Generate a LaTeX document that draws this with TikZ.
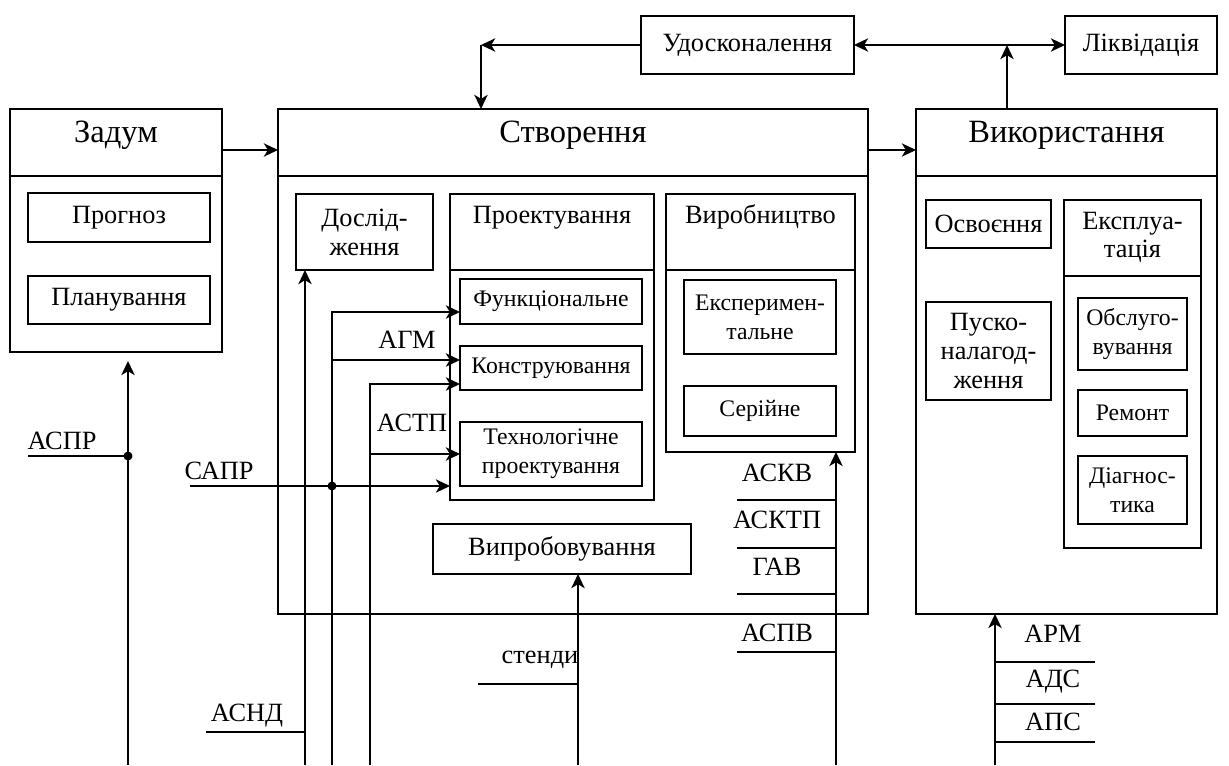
\documentclass[tikz,border=0pt]{standalone}
\usepackage{fontspec}
\setmainfont{Liberation Serif}
\usetikzlibrary{arrows.meta,positioning}

\newcommand{\titlefont}{\fontsize{18.5}{22}\selectfont}
\newcommand{\boxfont}{\fontsize{15}{16.5}\selectfont}
\newcommand{\subfont}{\fontsize{13.5}{16.5}\selectfont}

\tikzset{
  basic/.style   = {draw, rectangle, line width=1.3pt, align=center, inner sep=1pt, outer sep=0pt, anchor=north west, font=\boxfont},
  head/.style    = {basic, font=\titlefont, text height=0.6cm, text depth=0.6cm},
  subhead/.style = {basic, inner ysep=0pt, text height=0.58cm, text depth=0.94cm},
  sub/.style     = {basic, font=\subfont},
  lbl/.style     = {font=\boxfont, inner sep=0pt}
}

\begin{document}
\begin{tikzpicture}[x=0.02cm, y=-0.02cm, line width=1.3pt,
  >={Stealth[length=8pt,width=7.5pt,inset=2.2pt]}]
\useasboundingbox (0,0) rectangle (1229,765);

% stages of the life cycle
\node[head, minimum width=4.24cm, minimum height=1.34cm] (zadh) at (10,109) {Задум};
\node[basic, below=0pt of zadh, minimum width=4.24cm, minimum height=3.52cm] (zadb) {};
\node[head, minimum width=11.8cm, minimum height=1.34cm] (stvh) at (278,109) {Створення};
\node[basic, below=0pt of stvh, minimum width=11.8cm, minimum height=8.76cm] (stvb) {};
\node[head, minimum width=6.02cm, minimum height=1.34cm] (vykh) at (916,109) {Використання};
\node[basic, below=0pt of vykh, minimum width=6.02cm, minimum height=8.76cm] (vykb) {};
\node[basic, minimum width=4.26cm, minimum height=1.16cm] (udos) at (641,16) {Удосконалення};
\node[basic, minimum width=3.04cm, minimum height=1.16cm] (likv) at (1065,16) {Ліквідація};

% inside Задум
\node[basic, minimum width=3.64cm, minimum height=0.98cm] (prog) at (28,193) {Прогноз};
\node[basic, minimum width=3.64cm, minimum height=0.96cm] (plan) at (28,276) {Планування};

% inside Створення
\node[basic, minimum width=2.74cm, minimum height=1.52cm] (dosl) at (296,194) {Дослід-\\ження};
\node[subhead, minimum width=4.08cm, minimum height=1.52cm] (proh) at (450,194) {Проектування};
\node[basic, below=0pt of proh, minimum width=4.08cm, minimum height=4.6cm] (prob) {};
\node[sub, minimum width=3.64cm, minimum height=0.9cm] (func) at (460,279) {Функціональне};
\node[sub, minimum width=3.64cm, minimum height=0.88cm] (kons) at (460,346) {Конструювання};
\node[sub, minimum width=3.64cm, minimum height=1.28cm] (tehn) at (460,422) {Технологічне\\проектування};
\node[subhead, minimum width=3.78cm, minimum height=1.52cm] (vyrh) at (666,194) {Виробництво};
\node[basic, below=0pt of vyrh, minimum width=3.78cm, minimum height=3.64cm] (vyrb) {};
\node[sub, minimum width=3.04cm, minimum height=1.48cm] (eksp) at (684,280) {Експеримен-\\тальне};
\node[sub, minimum width=3.04cm, minimum height=1.0cm] (seri) at (684,386) {Серійне};
\node[basic, minimum width=5.16cm, minimum height=1.0cm] (vypr) at (433,524) {Випробовування};

% inside Використання
\node[basic, minimum width=2.5cm, minimum height=0.96cm] (osv) at (926,200) {Освоєння};
\node[basic, minimum width=2.5cm, minimum height=1.96cm] (pusk) at (926,302) {Пуско-\\налагод-\\ження};
\node[subhead, text height=1.16cm, text depth=0.36cm, minimum width=2.74cm, minimum height=1.52cm] (exph) at (1064,200) {Експлуа-\\тація};
\node[basic, below=0pt of exph, minimum width=2.74cm, minimum height=5.44cm] (expb) {};
\node[sub, minimum width=2.18cm, minimum height=1.44cm] (obsl) at (1078,298) {Обслуго-\\вування};
\node[sub, minimum width=2.18cm, minimum height=0.92cm] (remo) at (1078,390) {Ремонт};
\node[sub, minimum width=2.18cm, minimum height=1.36cm] (diag) at (1078,456) {Діагнос-\\тика};

% labels of the automated systems
\node[lbl] (laspr) at (62,441) {АСПР};
\node[lbl] (lsapr) at (219,471) {САПР};
\node[lbl] (lasnd) at (247,716) {АСНД};
\node[lbl] (lagm) at (407,340) {АГМ};
\node[lbl] (lastp) at (412,423) {АСТП};
\node[lbl] (lsten) at (540,660) {стенди};
\foreach \y/\t in {473/АСКВ, 520/АСКТП, 567/ГАВ, 633/АСПВ}
  \node[lbl] (l\y) at (777,\y) {\t};
\foreach \y/\t in {634/АРМ, 682/АДС, 722/АПС}
  \node[lbl] (l\y) at (1053,\y) {\t};

% feet of the vertical lines
\coordinate (aspr) at (128,765);
\coordinate (asnd) at (305,765);
\coordinate (agm) at (332,765);
\coordinate (astp) at (370,765);
\coordinate (sten) at (578,765);
\coordinate (askv) at (836,765);
\coordinate (arm) at (995,765);
\coordinate (sapr) at (190,486);
\coordinate (crn) at (481,0);
\coordinate (lq) at (1007,0);

% flow between the stages
\draw[->] ([yshift=-0.15cm]zadh.east) -- ([yshift=-0.15cm]stvh.west);
\draw[->] ([yshift=-0.15cm]stvh.east) -- ([yshift=-0.15cm]vykh.west);
\draw[<->] (udos) -- (likv);
\draw[->] (udos.west) -- (udos.west -| crn);
\draw[->] (udos.west -| crn) -- (crn |- stvh.north);
\draw[->] (vykh.north -| lq) -- (lq |- udos.east);

% vertical inputs
\draw[->] (aspr) -- ([yshift=-0.18cm]zadb.south -| aspr);
\draw[->] (asnd) -- (asnd |- dosl.south);
\draw[->] (agm) |- ([yshift=-0.21cm]func.west);
\draw[->] ([yshift=0.16cm]kons.west -| agm) -- ([yshift=0.16cm]kons.west);
\draw[->] (astp) |- ([yshift=-0.32cm]kons.west);
\draw[->] (tehn.west -| astp) -- (tehn.west);
\draw[->] (sapr) -- (sapr -| prob.west);
\draw[->] (sten) -- (sten |- vypr.south);
\draw[->] (askv) -- (askv |- vyrb.south);
\draw[->] (arm) -- (arm |- vykb.south);

% junctions
\fill (aspr |- 0,456) circle (0.09cm);
\fill (agm |- sapr) circle (0.09cm);

% short lines under the labels
\draw (aspr |- 0,456) -- ++(-100,0);
\draw (asnd |- 0,732) -- ++(-99,0);
\draw (sten |- 0,684) -- ++(-100,0);
\foreach \y in {500,548,594,652}
  \draw (askv |- 0,\y) -- ++(-99,0);
\foreach \y in {662,704,742}
  \draw (arm |- 0,\y) -- ++(100,0);
\end{tikzpicture}
\end{document}
